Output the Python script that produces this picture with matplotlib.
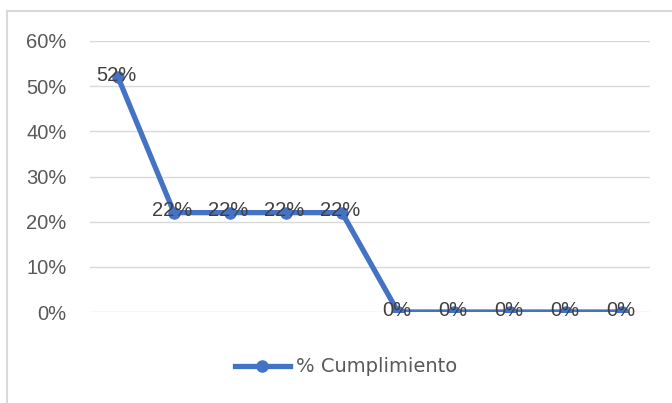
import matplotlib.pyplot as plt
from matplotlib.lines import Line2D
from matplotlib.ticker import PercentFormatter

# Data
categories = list(range(1, 11))
cumplimiento = [0.52, 0.22, 0.22, 0.22, 0.22, 0.0, 0.0, 0.0, 0.0, 0.0]
labels = ["52%", "22%", "22%", "22%", "22%", "0%", "0%", "0%", "0%", "0%"]
y_ticks = [0.0, 0.1, 0.2, 0.3, 0.4, 0.5, 0.6]

blue = "#4472C4"
grid_gray = "#D9D9D9"
text_gray = "#595959"

plt.rcParams["font.family"] = ["Liberation Sans", "DejaVu Sans"]

fig = plt.figure(figsize=(6.72, 4.03), dpi=100)
W, H = 672, 403
ax = fig.add_axes([90 / W, 1 - 312 / H, 560 / W, (312 - 41) / H])

x = list(range(len(categories)))
line, = ax.plot(x, cumplimiento, color=blue, lw=3.8, marker="o", ms=8,
                solid_joinstyle="round", label="% Cumplimiento", zorder=3)

for xi, yi, lab in zip(x, cumplimiento, labels):
    ax.text(xi - 0.03, yi + 0.004, lab, ha="center", va="center",
            fontsize=14.5, color="#404040", zorder=4)

ax.set_xlim(-0.5, len(categories) - 0.5)
ax.set_ylim(0, 0.6)
ax.set_yticks(y_ticks)
ax.yaxis.set_major_formatter(PercentFormatter(1.0, decimals=0))
ax.set_xticks([])
ax.grid(axis="y", color=grid_gray, lw=1)
ax.set_axisbelow(True)
for s in ax.spines.values():
    s.set_visible(False)
ax.tick_params(axis="y", length=0, pad=17, labelsize=14.5, labelcolor=text_gray)

leg = fig.legend(handles=[line], loc="center", bbox_to_anchor=(346 / W, 1 - 367 / H),
                 frameon=False, fontsize=14.5, handlelength=2.8, handletextpad=0.3,
                 prop={"family": ["DejaVu Sans"], "size": 14})
for t in leg.get_texts():
    t.set_color(text_gray)

# chart border (left and top)
fig.add_artist(Line2D([7 / W, 7 / W], [0, 1 - 11 / H], color=grid_gray, lw=1.5))
fig.add_artist(Line2D([7 / W, 1], [1 - 11 / H, 1 - 11 / H], color=grid_gray, lw=1.5))

fig.savefig("out.png", dpi=100)
